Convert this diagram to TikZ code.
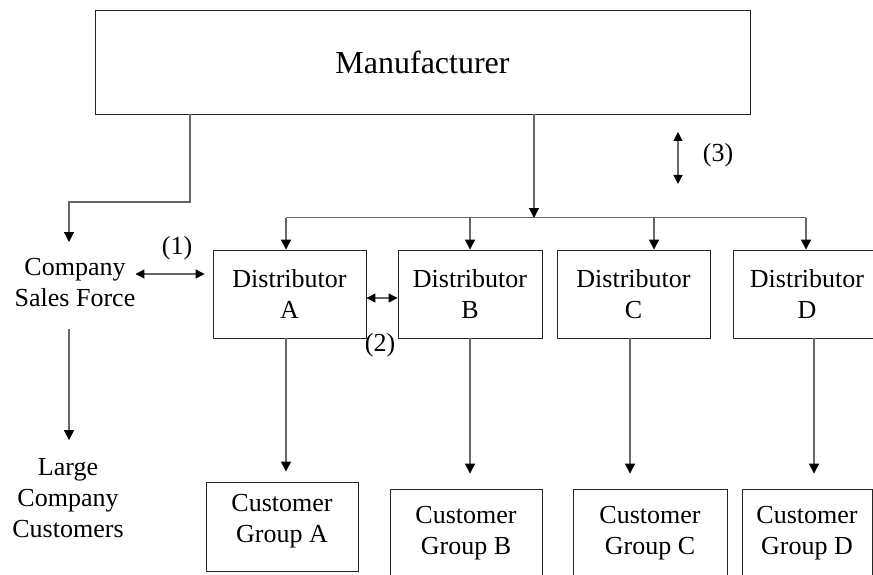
\documentclass[tikz,border=0pt]{standalone}
\usepackage{fontspec}
\setmainfont{Liberation Serif}
\usetikzlibrary{arrows.meta}
\begin{document}
\begin{tikzpicture}[x=1pt, y=-1pt,
    box/.style={draw=black!85, line width=0.9pt, inner sep=0pt, align=center,
      font=\fontsize{26}{31}\selectfont},
    lbl/.style={inner sep=0pt, align=center, font=\fontsize{26}{31}\selectfont},
    conn/.style={draw=black!60, line width=1.2pt},
    arr/.style={conn, -{Triangle[length=10pt,width=10pt,color=black]}},
    dbl/.style={conn, {Triangle[length=9pt,width=9pt,color=black]}-{Triangle[length=9pt,width=9pt,color=black]}}]
    \useasboundingbox (0,0) rectangle (873,575);

    \node[box, minimum width=655pt, minimum height=104pt, font=\fontsize{32}{38}\selectfont] (mfr) at (422.5,62) {Manufacturer};

    \node[lbl] (sf) at (75,283) {Company\\Sales Force};
    \node[lbl] (lg) at (68,498) {Large\\Company\\Customers};

    \node[box, minimum width=153pt, minimum height=88pt] (dA) at (289.5,294) {Distributor\\A};
    \node[box, minimum width=144pt, minimum height=88pt] (dB) at (470,294) {Distributor\\B};
    \node[box, minimum width=153pt, minimum height=88pt] (dC) at (633.5,294) {Distributor\\C};
    \node[box, minimum width=148pt, minimum height=88pt] (dD) at (807,294) {Distributor\\D};

    \node[box, minimum width=152pt, minimum height=89pt, text depth=16pt] (cA) at (282,526.5) {Customer\\Group A};
    \node[box, minimum width=152pt, minimum height=89pt] (cB) at (466,533.5) {Customer\\Group B};
    \node[box, minimum width=154pt, minimum height=89pt] (cC) at (650,533.5) {Customer\\Group C};
    \node[box, minimum width=130pt, minimum height=89pt] (cD) at (807,533.5) {Customer\\Group D};

    \node[lbl] (l1) at (177,248) {(1)};
    \node[lbl] (l2) at (380,345) {(2)};
    \node[lbl] (l3) at (718,155) {(3)};

    % manufacturer -> sales force
    \coordinate (sfbend) at (190,202);
    \coordinate (sfx) at (69,242);
    \draw[arr] (mfr.south -| sfbend) -- (sfbend) -| (sfx);
    \draw[arr, shorten <=22pt, shorten >=18pt] (sf.south -| sfx) -- (lg.north -| sfx);

    % manufacturer -> distributors
    \coordinate (bus) at (534,218);
    \draw[arr] (mfr.south -| bus) -- (bus);
    \draw[conn] ([shift={(-3.5,-32)}]dA.north) -- ([shift={(-1,-32)}]dD.north);
    \foreach \d/\dx in {dA/-3.5, dB/0, dC/20.5, dD/-1}
      \draw[arr] ([shift={(\dx,-32)}]\d.north) -- ([xshift=\dx pt]\d.north);

    % distributors -> customer groups
    \foreach \d/\c/\dx/\gap in {dA/cA/-3.5/10, dB/cB/0/15, dC/cC/-3.5/15, dD/cD/7/15}{
      \path ([xshift=\dx pt]\d.south) coordinate (\d out);
      \draw[arr, shorten >=\gap pt] (\d out) -- (\d out |- \c.north);
    }

    % (1), (2), (3)
    \coordinate (p1) at ([yshift=20pt]dA.west);
    \draw[dbl, shorten >=8pt] (sf.east |- p1) -- (p1);
    \draw[dbl] ([yshift=-4pt]dA.east) -- ([yshift=-4pt]dB.west);
    \coordinate (t3) at (678,132);
    \coordinate (b3) at (678,184);
    \draw[dbl] (t3) -- (b3);
\end{tikzpicture}
\end{document}
